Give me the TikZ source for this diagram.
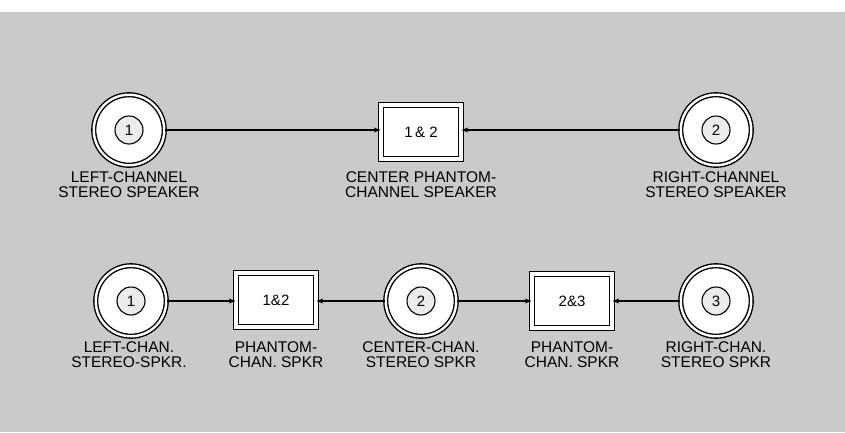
\documentclass[tikz,border=0pt]{standalone}
\usepackage{fontspec}
\setmainfont{Liberation Sans}
\usetikzlibrary{arrows.meta}
\definecolor{bg}{RGB}{202,202,202}
\tikzset{
  spk/.style={circle,draw=black,line width=1.4pt,double=white,double distance=2.4pt,fill=white,minimum size=70.5pt,inner sep=0pt},
  num/.style={circle,draw=black,line width=1.1pt,fill=bg!35,minimum size=28pt,inner sep=0pt,font=\fontsize{15}{15}\selectfont},
  phbox/.style={rectangle,draw=black,line width=1.1pt,double=white,double distance=4pt,fill=white,minimum width=79.6pt,minimum height=53.6pt,inner sep=0pt,font=\fontsize{15}{15}\selectfont},
  lbl/.style={anchor=north,align=center,inner sep=0pt,font=\fontsize{15.5}{15.5}\selectfont},
  conn/.style={line width=1.4pt,-{Stealth[length=7pt,width=5pt]}},
}
\begin{document}
\begin{tikzpicture}[x=1pt,y=-1pt]
\fill[white] (0,0) rectangle (845,432);
\fill[bg] (0,12) rectangle (845,432);
\useasboundingbox (0,0) rectangle (845,432);
% top row
\node[spk] (tl) at (129,130) {};
\node[num] (tln) at (129,130) {1};
\node[phbox] (tb) at (421,132) {1\,\& 2};
\node[spk] (tr) at (716,130) {};
\node[num] (trn) at (716,130) {2};
\draw[conn] (tl.east) -- (tl.east -| tb.west);
\draw[conn] (tr.west) -- (tr.west -| tb.east);
\node[lbl] (tll) at (129,171) {LEFT-CHANNEL\\STEREO SPEAKER};
\node[lbl] (tbl) at (421,171) {CENTER PHANTOM-\\CHANNEL SPEAKER};
\node[lbl] (trl) at (716,171) {RIGHT-CHANNEL\\STEREO SPEAKER};
% bottom row
\node[spk] (b1) at (131,301) {};
\node[num] (b1n) at (131,301) {1};
\node[phbox] (b12) at (276,300) {1\&2};
\node[spk] (b2) at (421,301) {};
\node[num] (b2n) at (421,301) {2};
\node[phbox] (b23) at (572,301) {2\&3};
\node[spk] (b3) at (716,301) {};
\node[num] (b3n) at (716,301) {3};
\draw[conn] (b1.east) -- (b1.east -| b12.west);
\draw[conn] (b2.west) -- (b2.west -| b12.east);
\draw[conn] (b2.east) -- (b2.east -| b23.west);
\draw[conn] (b3.west) -- (b3.west -| b23.east);
\node[lbl] (b1l) at (129,341) {LEFT-CHAN.\\STEREO-SPKR.};
\node[lbl] (b12l) at (276,341) {PHANTOM-\\CHAN. SPKR};
\node[lbl] (b2l) at (421,341) {CENTER-CHAN.\\STEREO SPKR};
\node[lbl] (b23l) at (572,341) {PHANTOM-\\CHAN. SPKR};
\node[lbl] (b3l) at (716,341) {RIGHT-CHAN.\\STEREO SPKR};
\end{tikzpicture}
\end{document}
